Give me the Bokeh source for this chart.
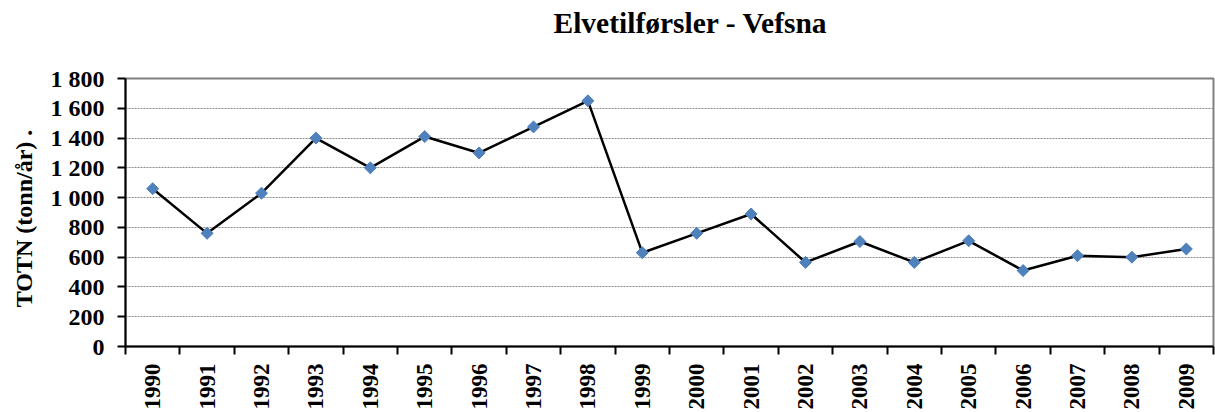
import math
from bokeh.plotting import figure
from bokeh.models import Range1d, FixedTicker, CustomJSTickFormatter
from bokeh.embed import file_html
from bokeh.resources import INLINE

years = [1990, 1991, 1992, 1993, 1994, 1995, 1996, 1997, 1998, 1999,
         2000, 2001, 2002, 2003, 2004, 2005, 2006, 2007, 2008, 2009]
totn = [1060, 760, 1030, 1400, 1200, 1410, 1300, 1475, 1650, 630,
        760, 890, 565, 705, 565, 710, 510, 610, 600, 655]
y_ticks = [0, 200, 400, 600, 800, 1000, 1200, 1400, 1600, 1800]
title_text = "Elvetilførsler - Vefsna"
y_label = "TOTN (tonn/år)   ."

FONT = "Liberation Serif"

p = figure(width=1215, height=412, output_backend="svg", toolbar_location=None,
           x_range=Range1d(years[0] - 0.5, years[-1] + 0.5),
           y_range=Range1d(0, 1800),
           min_border_left=125, min_border_right=2, min_border_top=78, min_border_bottom=0)
p.outline_line_color = "#808080"
p.outline_line_width = 2

# trailing blank line keeps the title high above the plot area
p.title.text = title_text + "\n "
p.title.text_font = FONT
p.title.text_font_size = "29.5px"
p.title.text_font_style = "bold"
p.title.text_color = "black"
p.title.text_line_height = 1.2
p.title.align = "left"
p.title.vertical_align = "top"
p.title.offset = 428
p.title.standoff = 0

# gridlines
p.xgrid.visible = False
p.ygrid.ticker = FixedTicker(ticks=y_ticks[1:-1])
p.ygrid.grid_line_color = "#8c8c8c"
p.ygrid.grid_line_dash = "2 1"
p.ygrid.grid_line_width = 1

# y axis
ya = p.yaxis[0]
ya.ticker = FixedTicker(ticks=y_ticks)
ya.formatter = CustomJSTickFormatter(code="""
    if (tick >= 1000) { return Math.floor(tick/1000) + ' ' + String(tick % 1000).padStart(3, '0'); }
    return String(tick);
""")
ya.axis_line_color = "black"
ya.axis_line_width = 2
ya.major_tick_out = 8
ya.major_tick_in = 0
ya.major_tick_line_width = 2
ya.minor_tick_out = 0
ya.minor_tick_in = 0
ya.major_label_standoff = 13
ya.major_label_text_font = FONT
ya.major_label_text_font_size = "24px"
ya.major_label_text_font_style = "bold"
ya.major_label_text_color = "black"
ya.axis_label = y_label
ya.axis_label_text_font = FONT
ya.axis_label_text_font_size = "24px"
ya.axis_label_text_font_style = "bold"
ya.axis_label_text_color = "black"
ya.axis_label_standoff = 11

# x axis
xa = p.xaxis[0]
xa.ticker = FixedTicker(ticks=years, minor_ticks=[y - 0.5 for y in years] + [years[-1] + 0.5])
xa.axis_line_color = "black"
xa.axis_line_width = 2
xa.major_tick_out = 0
xa.major_tick_in = 0
xa.minor_tick_out = 8
xa.minor_tick_in = 0
xa.minor_tick_line_color = "black"
xa.minor_tick_line_width = 2
xa.major_label_orientation = math.pi / 2
xa.major_label_standoff = 9
xa.major_label_text_font = FONT
xa.major_label_text_font_size = "23px"
xa.major_label_text_font_style = "bold"
xa.major_label_text_color = "black"

p.line(years, totn, line_color="black", line_width=2.5)
p.scatter(years, totn, marker="square", angle=math.pi / 4, size=8.5,
          fill_color="#4F81BD", line_color="#4F81BD")

open("out.html", "w").write(file_html(p, INLINE))
